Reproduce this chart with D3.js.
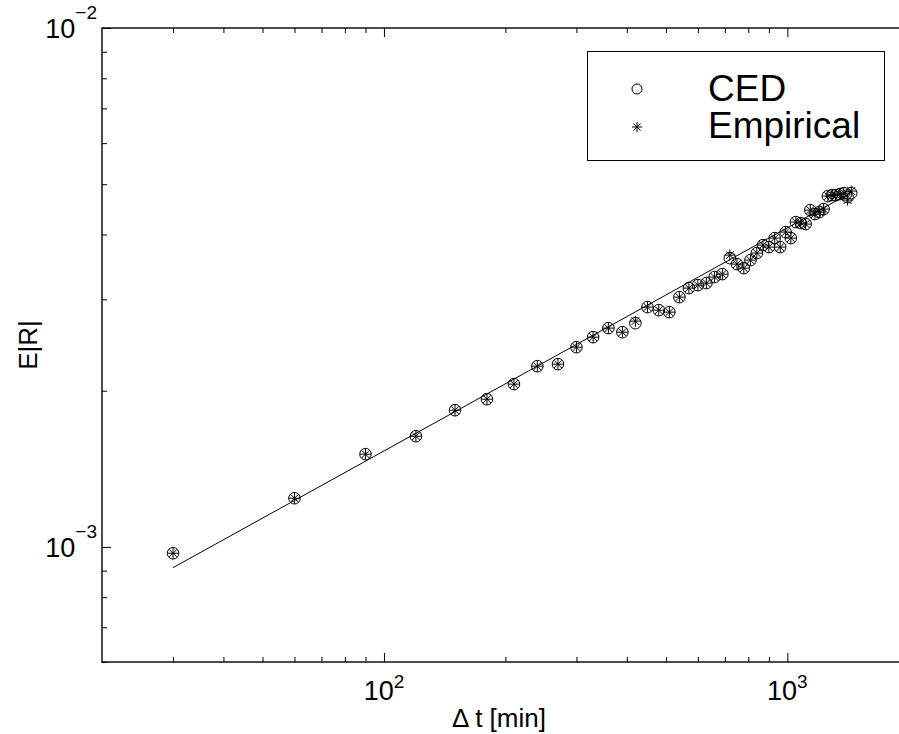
<!DOCTYPE html>
<html>
<head>
<meta charset="utf-8">
<script src="https://cdn.jsdelivr.net/npm/d3@7"></script>
<style>
  body { margin: 0; background: #fff; }
  svg { display: block; font-family: "Liberation Sans", Arial, Helvetica, sans-serif; }
</style>
</head>
<body>
<svg id="chart" width="899" height="734"></svg>
<script>
// time lag in minutes (every 30 min up to one day)
var dtMin = [30, 60, 90, 120, 150, 180, 210, 240, 270, 300, 330, 360, 390, 420, 450, 480,
             510, 540, 570, 600, 630, 660, 690, 720, 750, 780, 810, 840, 870, 900, 930, 960,
             990, 1020, 1050, 1080, 1110, 1140, 1170, 1200, 1230, 1260, 1290, 1320, 1350, 1380, 1410, 1440];

var cedValues = [9.72e-4, 1.241e-3, 1.509e-3, 1.634e-3, 1.834e-3, 1.926e-3, 2.059e-3, 2.230e-3,
                 2.250e-3, 2.426e-3, 2.536e-3, 2.640e-3, 2.593e-3, 2.699e-3, 2.898e-3, 2.859e-3,
                 2.834e-3, 3.029e-3, 3.153e-3, 3.195e-3, 3.224e-3, 3.311e-3, 3.355e-3, 3.602e-3,
                 3.507e-3, 3.445e-3, 3.570e-3, 3.683e-3, 3.816e-3, 3.782e-3, 3.936e-3, 3.782e-3,
                 4.043e-3, 3.936e-3, 4.226e-3, 4.207e-3, 4.189e-3, 4.457e-3, 4.379e-3, 4.418e-3,
                 4.477e-3, 4.743e-3, 4.764e-3, 4.764e-3, 4.786e-3, 4.807e-3, 4.722e-3, 4.807e-3];

var empiricalValues = [9.72e-4, 1.241e-3, 1.509e-3, 1.634e-3, 1.834e-3, 1.926e-3, 2.059e-3, 2.230e-3,
                       2.250e-3, 2.426e-3, 2.536e-3, 2.640e-3, 2.593e-3, 2.723e-3, 2.898e-3, 2.859e-3,
                       2.834e-3, 3.029e-3, 3.153e-3, 3.195e-3, 3.224e-3, 3.311e-3, 3.355e-3, 3.650e-3,
                       3.507e-3, 3.445e-3, 3.570e-3, 3.683e-3, 3.816e-3, 3.782e-3, 3.936e-3, 3.782e-3,
                       4.043e-3, 3.936e-3, 4.226e-3, 4.207e-3, 4.189e-3, 4.457e-3, 4.379e-3, 4.418e-3,
                       4.477e-3, 4.743e-3, 4.764e-3, 4.764e-3, 4.786e-3, 4.807e-3, 4.660e-3, 4.850e-3];

// power-law fit, straight line in log-log
var fitDt = [30, 1440];
var fitValues = [9.12e-4, 4.82e-3];

var xMajorTicks = [100, 1000];
var xMinorTicks = [30, 40, 50, 60, 70, 80, 90, 200, 300, 400, 500, 600, 700, 800, 900, 2000];
var xTickExponents = ["2", "3"];
var yMajorTicks = [1e-3, 1e-2];
var yMinorTicks = [6e-4, 7e-4, 8e-4, 9e-4, 2e-3, 3e-3, 4e-3, 5e-3, 6e-3, 7e-3, 8e-3, 9e-3];
var yTickExponents = ["\u22123", "\u22122"];

var legendLabels = ["CED", "Empirical"];

var svg = d3.select("#chart");
var pLeft = 102, pRight = 908.8, pTop = 28, pBottom = 662;

var xScale = d3.scaleLog().domain([20, 2000]).range([pLeft, pRight]);
var yScale = d3.scaleLog().domain([6e-4, 1e-2]).range([pBottom, pTop]);

// ticks (inside, on all four sides)
function tickAxis(axisFn, scale, values, size, transform) {
  var g = svg.append("g")
    .attr("transform", transform)
    .call(axisFn(scale).tickValues(values).tickSize(size).tickFormat(""));
  g.select(".domain").remove();
  g.selectAll("line").attr("stroke", "#000").attr("stroke-width", 1);
  return g;
}
tickAxis(d3.axisBottom, xScale, xMinorTicks, -5, `translate(0,${pBottom})`);
tickAxis(d3.axisBottom, xScale, xMajorTicks, -9, `translate(0,${pBottom})`);
tickAxis(d3.axisTop, xScale, xMinorTicks, -5, `translate(0,${pTop})`);
tickAxis(d3.axisTop, xScale, xMajorTicks, -9, `translate(0,${pTop})`);
tickAxis(d3.axisLeft, yScale, yMinorTicks, -5, `translate(${pLeft},0)`);
tickAxis(d3.axisLeft, yScale, yMajorTicks, -9, `translate(${pLeft},0)`);
tickAxis(d3.axisRight, yScale, yMinorTicks, -5, `translate(${pRight},0)`);
tickAxis(d3.axisRight, yScale, yMajorTicks, -9, `translate(${pRight},0)`);

// frame
svg.append("rect")
  .attr("x", pLeft).attr("y", pTop)
  .attr("width", pRight - pLeft).attr("height", pBottom - pTop)
  .attr("fill", "none").attr("stroke", "#000").attr("stroke-width", 1.4);

// tick labels with superscripts
xMajorTicks.forEach(function(v, i) {
  var t = svg.append("text")
    .attr("x", xScale(v)).attr("y", 700)
    .attr("text-anchor", "middle")
    .attr("font-size", 27);
  t.append("tspan").text("10");
  t.append("tspan").attr("font-size", 19).attr("dy", -12).text(xTickExponents[i]);
});

yMajorTicks.forEach(function(v, i) {
  var t = svg.append("text")
    .attr("x", pLeft - 5).attr("y", yScale(v) + 10)
    .attr("text-anchor", "end")
    .attr("font-size", 27);
  t.append("tspan").text("10");
  t.append("tspan").attr("font-size", 19).attr("dy", -19).text(yTickExponents[i]);
});

// axis titles
svg.append("text")
  .attr("x", 499).attr("y", 727)
  .attr("text-anchor", "middle").attr("font-size", 26)
  .text("\u0394 t [min]");

svg.append("text")
  .attr("transform", `translate(37,${(pTop + pBottom) / 2}) rotate(-90)`)
  .attr("text-anchor", "middle").attr("font-size", 26)
  .text("E|R|");

// fit line
var line = d3.line()
  .x(function(d) { return xScale(d[0]); })
  .y(function(d) { return yScale(d[1]); });

svg.append("path")
  .datum(d3.zip(fitDt, fitValues))
  .attr("d", line)
  .attr("fill", "none").attr("stroke", "#000").attr("stroke-width", 1);

// markers
function starPath(r) {
  var a = r * Math.SQRT1_2;
  return `M${-r},0L${r},0M0,${-r}L0,${r}` +
         `M${-a},${-a}L${a},${a}M${-a},${a}L${a},${-a}`;
}

var plot = svg.append("g");

plot.selectAll("circle.ced")
  .data(d3.zip(dtMin, cedValues))
  .enter().append("circle")
  .attr("class", "ced")
  .attr("cx", function(d) { return xScale(d[0]); })
  .attr("cy", function(d) { return yScale(d[1]); })
  .attr("r", 5.8)
  .attr("fill", "none").attr("stroke", "#000").attr("stroke-width", 1);

plot.selectAll("path.emp")
  .data(d3.zip(dtMin, empiricalValues))
  .enter().append("path")
  .attr("class", "emp")
  .attr("transform", function(d) { return `translate(${xScale(d[0])},${yScale(d[1])})`; })
  .attr("d", starPath(5.5))
  .attr("fill", "none").attr("stroke", "#000").attr("stroke-width", 1);

// legend
var legend = svg.append("g");
legend.append("rect")
  .attr("x", 587.5).attr("y", 51.5).attr("width", 297).attr("height", 109)
  .attr("fill", "#fff").attr("stroke", "#000").attr("stroke-width", 1);

legend.append("circle")
  .attr("cx", 637).attr("cy", 89).attr("r", 5)
  .attr("fill", "none").attr("stroke", "#000").attr("stroke-width", 1);
legend.append("path")
  .attr("transform", "translate(637,127)")
  .attr("d", starPath(5))
  .attr("fill", "none").attr("stroke", "#000").attr("stroke-width", 1);

legend.selectAll("text.lab")
  .data(legendLabels)
  .enter().append("text")
  .attr("class", "lab")
  .attr("x", 708)
  .attr("y", function(d, i) { return 101 + i * 37; })
  .attr("font-size", 37)
  .text(function(d) { return d; });
</script>
</body>
</html>
